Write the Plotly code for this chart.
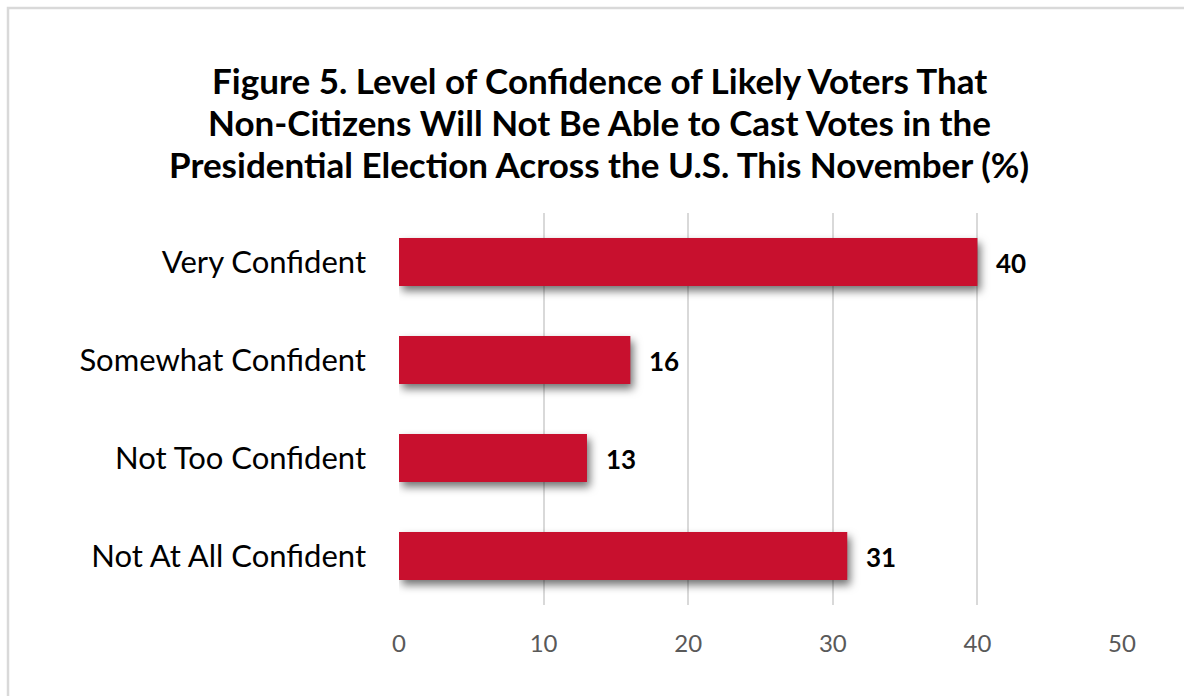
import plotly.graph_objects as go

categories = ["Very Confident", "Somewhat Confident", "Not Too Confident", "Not At All Confident"]
values = [40, 16, 13, 31]
x_ticks = [0, 10, 20, 30, 40, 50]

title_lines = [
    "Figure 5. Level of Confidence of Likely Voters That",
    "Non-Citizens Will Not Be Able to Cast Votes in the",
    "Presidential Election Across the U.S. This November (%)",
]

W, H = 1184, 696
L, R, T, B = 399, 62, 213, 91
pw, ph = W - L - R, H - T - B

BAR = "#C8102E"
FONT = "Lato, 'Open Sans', sans-serif"


def px_to_paper_y(py):
    return 1 + (T - py) / ph


def px_to_paper_x(px):
    return (px - L) / pw


fig = go.Figure()
fig.add_trace(go.Bar(
    x=values, y=categories, orientation="h",
    marker=dict(color=BAR, line=dict(width=0)),
    width=0.49, hoverinfo="skip",
))

# value labels just right of each bar end
for c, v in zip(categories, values):
    fig.add_annotation(
        x=v, y=c, text=f"<b>{v}</b>", showarrow=False,
        xanchor="left", xshift=17, yshift=-1,
        font=dict(family=FONT, size=26, color="#000000"),
    )

# three-line bold title, each line centred over the chart
for i, line in enumerate(title_lines):
    fig.add_annotation(
        x=px_to_paper_x(599), y=px_to_paper_y(80 + 42 * i),
        xref="paper", yref="paper", xanchor="center", yanchor="middle",
        text=f"<b>{line}</b>", showarrow=False,
        font=dict(family=FONT, size=35, color="#000000"),
    )

# light frame around the chart (top/left edges visible)
fig.add_shape(
    type="rect", xref="paper", yref="paper",
    x0=px_to_paper_x(8), x1=1.5, y0=-1.0, y1=px_to_paper_y(8),
    line=dict(color="#D9D9D9", width=2.5), fillcolor="rgba(0,0,0,0)", layer="below",
)

fig.update_layout(
    width=W, height=H,
    margin=dict(l=L, r=R, t=T, b=B, pad=0),
    paper_bgcolor="white", plot_bgcolor="white",
    showlegend=False,
    xaxis=dict(
        range=[0, 50], tickvals=x_ticks, ticktext=[str(t) for t in x_ticks],
        showgrid=True, gridcolor="#D9D9D9", gridwidth=2,
        zeroline=False, showline=False, ticks="",
        tickfont=dict(family=FONT, size=24, color="#595959"),
        ticklabelstandoff=22, fixedrange=True,
    ),
    yaxis=dict(
        categoryorder="array", categoryarray=categories[::-1],
        showgrid=False, zeroline=False, showline=False, ticks="",
        tickfont=dict(family=FONT, size=31, color="#000000"),
        ticklabelstandoff=32, fixedrange=True,
    ),
)

# soft drop shadow under the bars
shadow_js = """
document.querySelectorAll('.barlayer .trace').forEach(function(g){
  g.style.filter = 'drop-shadow(3px 5px 4px rgba(0,0,0,0.55))';
});
"""

fig.write_html("out.html", post_script=shadow_js, config={"displayModeBar": False})
